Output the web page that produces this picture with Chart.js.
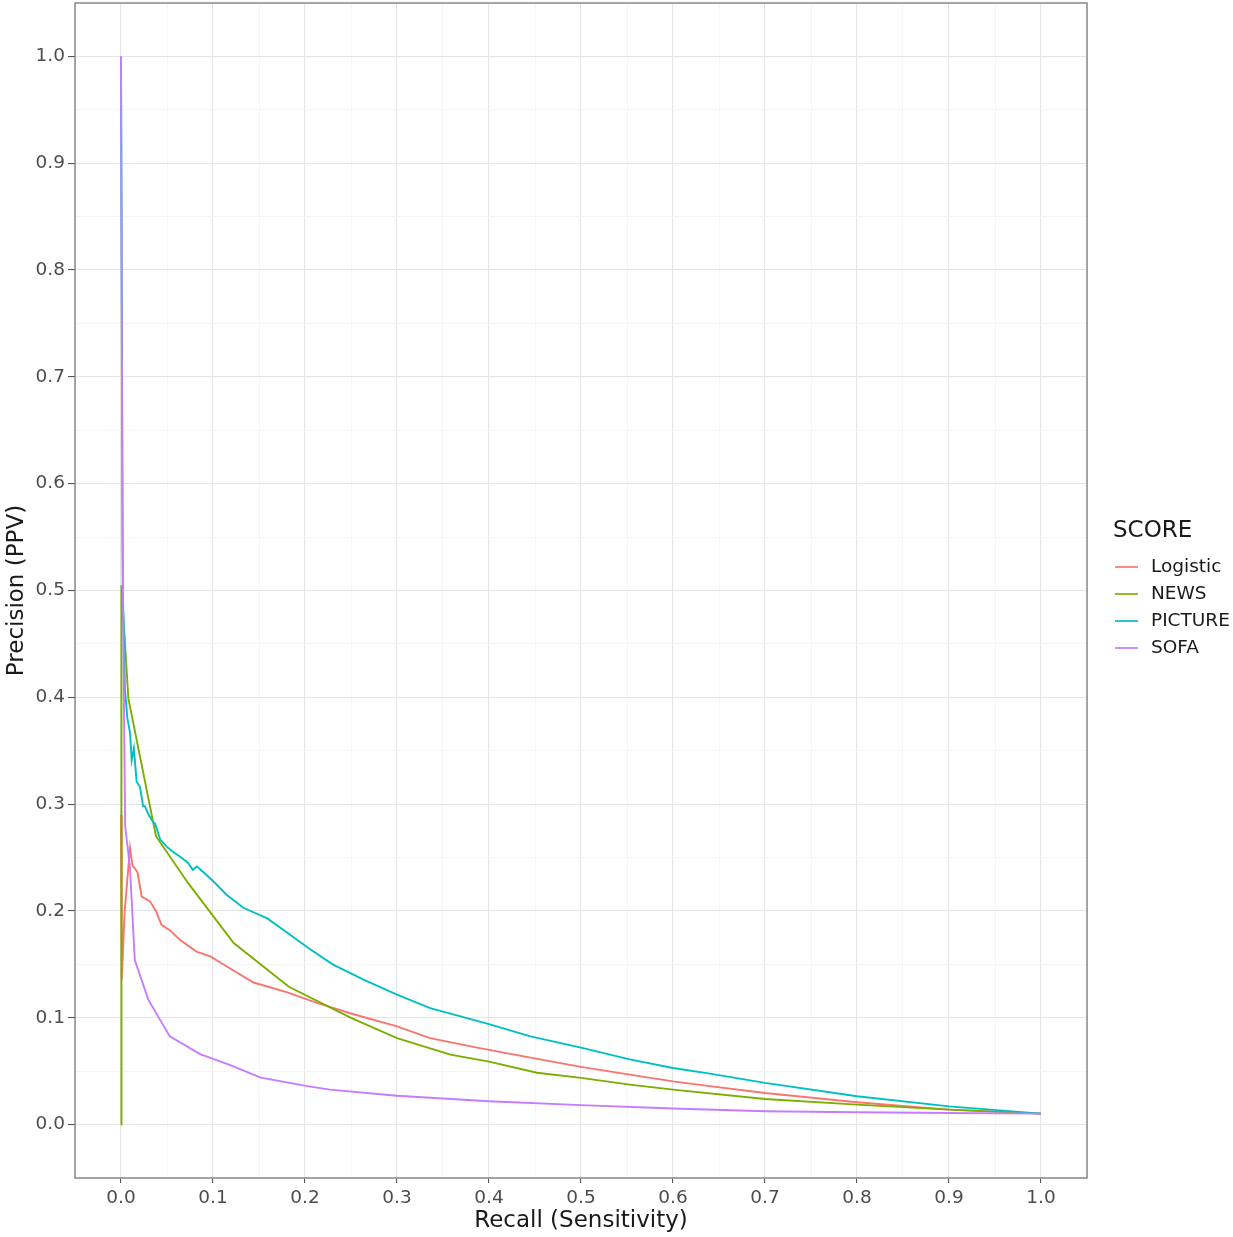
<!DOCTYPE html>
<html>
<head>
<meta charset="utf-8">
<script src="https://cdn.jsdelivr.net/npm/chart.js@4/dist/chart.umd.min.js"></script>
<style>
  body { margin: 0; background: #fff; }
  #wrap { width: 1233px; height: 1237px; }
</style>
</head>
<body>
<div id="wrap"><canvas id="prChart" width="1233" height="1237"></canvas></div>
<script>
// series labels (legend order)
const scoreNames = ["Logistic", "NEWS", "PICTURE", "SOFA"];

// Logistic
const logisticRecall = [0, 0.0008, 0.004, 0.0098, 0.0125, 0.015, 0.018, 0.0225, 0.0315, 0.038, 0.044, 0.053, 0.064, 0.082, 0.097, 0.115, 0.144, 0.18, 0.213, 0.25, 0.3, 0.336, 0.387, 0.445, 0.5, 0.553, 0.6, 0.64, 0.7, 0.8, 0.9, 1.0];
const logisticPrecision = [0.29, 0.136, 0.2, 0.259, 0.242, 0.24, 0.236, 0.2135, 0.209, 0.2, 0.187, 0.182, 0.173, 0.162, 0.1575, 0.148, 0.133, 0.124, 0.114, 0.104, 0.092, 0.081, 0.072, 0.0627, 0.054, 0.0468, 0.0405, 0.036, 0.0296, 0.0209, 0.014, 0.0103];

// NEWS
const newsRecall = [0, 0.0005, 0.008, 0.038, 0.073, 0.1225, 0.1825, 0.25, 0.3, 0.358, 0.4, 0.452, 0.5, 0.553, 0.6, 0.7, 0.8, 0.9, 1.0];
const newsPrecision = [0, 0.505, 0.399, 0.27, 0.226, 0.17, 0.129, 0.1, 0.081, 0.0655, 0.059, 0.0485, 0.0437, 0.0374, 0.0327, 0.024, 0.0187, 0.014, 0.0103];

// PICTURE
const pictureRecall = [0, 0.002, 0.0043, 0.007, 0.0098, 0.0116, 0.014, 0.017, 0.0207, 0.024, 0.026, 0.03, 0.035, 0.037, 0.0425, 0.05, 0.057, 0.064, 0.073, 0.078, 0.0825, 0.09, 0.1, 0.115, 0.133, 0.159, 0.18, 0.2025, 0.23, 0.263, 0.3, 0.336, 0.4, 0.445, 0.5, 0.553, 0.6, 0.64, 0.7, 0.8, 0.9, 1.0];
const picturePrecision = [1.0, 0.5, 0.407, 0.38, 0.367, 0.341, 0.352, 0.321, 0.316, 0.298, 0.298, 0.29, 0.283, 0.282, 0.267, 0.26, 0.255, 0.251, 0.245, 0.2385, 0.2417, 0.236, 0.228, 0.215, 0.203, 0.193, 0.18, 0.166, 0.15, 0.136, 0.1216, 0.109, 0.094, 0.0826, 0.072, 0.061, 0.053, 0.0477, 0.039, 0.0265, 0.0171, 0.0103];

// SOFA
const sofaRecall = [0, 0.0015, 0.0045, 0.0098, 0.015, 0.0297, 0.053, 0.086, 0.118, 0.152, 0.2025, 0.227, 0.3, 0.4, 0.5, 0.6, 0.7, 0.8, 0.9, 1.0];
const sofaPrecision = [1.0, 0.55, 0.28, 0.24, 0.154, 0.117, 0.0826, 0.066, 0.056, 0.044, 0.036, 0.0327, 0.027, 0.0218, 0.0182, 0.015, 0.0125, 0.0115, 0.0109, 0.0103];

// ggplot default hues
const seriesColors = ["#F8766D", "#7CAE00", "#00BFC4", "#C77CFF"];

const recallLists = [logisticRecall, newsRecall, pictureRecall, sofaRecall];
const precisionLists = [logisticPrecision, newsPrecision, picturePrecision, sofaPrecision];

const datasets = scoreNames.map((name, i) => ({
    label: name,
    data: recallLists[i].map((r, j) => ({ x: r, y: precisionLists[i][j] })),
    borderColor: seriesColors[i],
    backgroundColor: seriesColors[i],
    borderWidth: 1.9,
    pointRadius: 0,
    showLine: true,
    tension: 0,
    order: scoreNames.length - i   // later groups on top, like ggplot
}));

const isMajor = v => Math.abs(Math.round(v * 10) - v * 10) < 1e-6;

function axisOptions(isX) {
    return {
        type: "linear",
        min: -0.05,
        max: 1.05,
        border: { display: false },
        grid: {
            color: ctx => isMajor(ctx.tick.value) ? "#e4e4e4" : "#f2f2f2",
            lineWidth: ctx => isMajor(ctx.tick.value) ? 1.1 : 0.8,
            tickColor: ctx => isMajor(ctx.tick.value) ? "#555" : "rgba(0,0,0,0)",
            tickLength: isX ? 5 : 7,
            tickWidth: 1.1
        },
        ticks: {
            stepSize: 0.05,
            autoSkip: false,
            maxRotation: 0,
            padding: isX ? 4 : 3,
            color: "#4d4d4d",
            font: { family: "DejaVu Sans", size: 18.5 },
            callback: v => isMajor(v) ? v.toFixed(1) : ""
        },
        title: {
            display: true,
            text: isX ? "Recall (Sensitivity)" : "Precision (PPV)",
            color: "#1a1a1a",
            font: { family: "DejaVu Sans", size: 23 },
            padding: isX ? { top: 0, bottom: 2 } : { top: 3, bottom: 0 }
        },
        afterFit: s => {
            if (isX) s.height = 59; else s.width = 75;
            s.paddingTop = 0;
            s.paddingBottom = 0;
            s.paddingLeft = 0;
            s.paddingRight = 0;
        }
    };
}

// panel border + ggplot style legend on the right
const panelAndLegend = {
    id: "panelAndLegend",
    afterDatasetsDraw(chart) {
        const { ctx, chartArea: a } = chart;
        ctx.save();
        ctx.strokeStyle = "#777";
        ctx.lineWidth = 1.3;
        ctx.strokeRect(a.left, a.top, a.right - a.left, a.bottom - a.top);
        ctx.restore();
    },
    afterDraw(chart) {
        const ctx = chart.ctx;
        const x0 = chart.chartArea.right + 26;
        ctx.save();
        ctx.textBaseline = "middle";
        ctx.textAlign = "left";
        ctx.fillStyle = "#1a1a1a";
        ctx.font = "23px 'DejaVu Sans'";
        ctx.fillText("SCORE", x0, 531);
        ctx.font = "18.5px 'DejaVu Sans'";
        chart.data.datasets.forEach((ds, i) => {
            const y = 567 + i * 27;
            ctx.strokeStyle = ds.borderColor;
            ctx.lineWidth = 1.7;
            ctx.beginPath();
            ctx.moveTo(x0 + 2, y);
            ctx.lineTo(x0 + 25, y);
            ctx.stroke();
            ctx.fillStyle = "#1a1a1a";
            ctx.fillText(ds.label, x0 + 38, y);
        });
        ctx.restore();
    }
};

new Chart(document.getElementById("prChart"), {
    type: "scatter",
    data: { datasets },
    options: {
        responsive: false,
        animation: false,
        layout: { padding: { top: 3, right: 146, left: 0, bottom: 0 } },
        plugins: {
            legend: { display: false },
            tooltip: { enabled: false }
        },
        scales: {
            x: axisOptions(true),
            y: axisOptions(false)
        }
    },
    plugins: [panelAndLegend]
});
</script>
</body>
</html>
